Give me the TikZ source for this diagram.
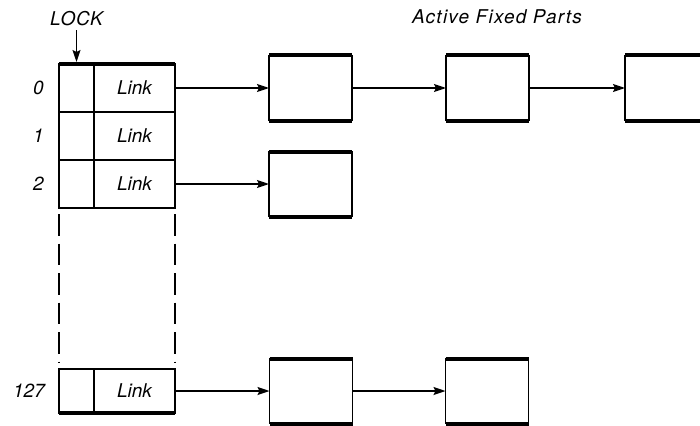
\documentclass[tikz,border=0pt]{standalone}
\usepackage{fontspec}
\setmainfont{TeX Gyre Heros}
\usetikzlibrary{arrows.meta}
\begin{document}
\begin{tikzpicture}[x=1pt,y=-1pt,
  lbl/.style={font=\fontsize{19}{22}\selectfont\itshape, inner sep=0pt},
  cell/.style={draw, line width=1.6pt, minimum height=48pt, inner sep=0pt, outer sep=0pt},
  fixedpart/.style={draw, line width=1.5pt, minimum width=83pt, minimum height=65pt, inner sep=0pt, outer sep=0pt},
  thickedge/.style={line width=4pt, line cap=butt},
  linkarrow/.style={line width=1.6pt, -{Stealth[length=12pt,width=8pt,inset=2pt]}},
  dashedge/.style={line width=1.6pt, dash pattern=on 21.5pt off 8pt}]
\useasboundingbox (0,0) rectangle (700,425);
\clip (0,0) rectangle (700,425);

% titles
\node[lbl] (lock) at (76.5,19) {\addfontfeature{LetterSpace=4}LOCK};
\node[lbl] (title) at (497,17) {\addfontfeature{LetterSpace=6.5}Active Fixed Parts};

% table
\node[cell, minimum width=35pt] (lock0) at (76.5,88) {};
\node[cell, lbl, minimum width=81pt, minimum height=48pt] (link0) at (134.5,88) {Link};
\node[cell, minimum width=35pt] (lock1) at (76.5,136) {};
\node[cell, lbl, minimum width=81pt, minimum height=48pt] (link1) at (134.5,136) {Link};
\node[cell, minimum width=35pt] (lock2) at (76.5,184) {};
\node[cell, lbl, minimum width=81pt, minimum height=48pt] (link2) at (134.5,184) {Link};
\node[cell, minimum width=35pt, minimum height=44pt] (lock127) at (76.5,391) {};
\node[cell, lbl, minimum width=81pt, minimum height=44pt] (link127) at (134.5,391) {Link};

\draw[thickedge] (lock0.north west) -- (link0.north east);
\draw[thickedge] (lock127.south west) -- (link127.south east);

% row indices
\node[lbl, anchor=east] (idx0) at (44,88) {0};
\node[lbl, anchor=east] (idx1) at (44,136) {1};
\node[lbl, anchor=east] (idx2) at (44,184) {2};
\node[lbl, anchor=east] (idx127) at (45,391) {127};

% dashed continuation
\draw[dashedge] ([yshift=-6pt]lock2.south west) -- ([yshift=6pt]lock127.north west);
\draw[dashedge] ([yshift=-6pt]link2.south east) -- ([yshift=6pt]link127.north east);

% fixed parts
\node[fixedpart] (a1) at (310.5,88) {};
\node[fixedpart] (a2) at (487.5,88) {};
\node[fixedpart] (a3) at (666.5,88) {};
\node[fixedpart] (c1) at (310.5,184) {};
\node[fixedpart] (d1) at (311,391) {};
\node[fixedpart] (d2) at (487,391) {};
\foreach \n in {a1,a2,a3,c1,d1,d2}{
  \draw[thickedge] (\n.north west) -- (\n.north east);
  \draw[thickedge] (\n.south west) -- (\n.south east);
}

% connectors
\draw[linkarrow, shorten <=4pt, shorten >=2pt] (lock) -- (lock0);
\draw[linkarrow] (link0) -- (a1);
\draw[linkarrow] (a1) -- (a2);
\draw[linkarrow] (a2) -- (a3);
\draw[linkarrow] (link2) -- (c1);
\draw[linkarrow] (link127) -- (d1);
\draw[linkarrow] (d1) -- (d2);
\end{tikzpicture}
\end{document}
